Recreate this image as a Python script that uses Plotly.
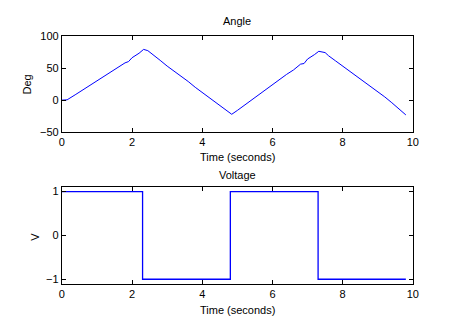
import plotly.graph_objects as go

# Angle data (seconds, degrees)
angle_t = [0.0, 0.15, 0.4, 0.6, 0.8, 1.0, 1.2, 1.4, 1.6, 1.8, 1.9, 2.0, 2.2, 2.33, 2.45,
           2.6, 2.8, 3.0, 3.2, 3.4, 3.6, 3.8, 4.0, 4.2, 4.4, 4.6, 4.84, 5.0, 5.2, 5.4,
           5.6, 5.8, 6.0, 6.2, 6.4, 6.6, 6.8, 6.9, 7.0, 7.2, 7.32, 7.5, 7.6, 7.8, 8.0,
           8.2, 8.4, 8.6, 8.8, 9.0, 9.2, 9.4, 9.6, 9.8]
angle_deg = [0, 0.5, 9, 16, 24, 31, 38, 45, 51, 58, 60, 66, 73, 79, 77,
             71, 62, 53, 45, 38, 29, 20, 12, 4, -4, -12, -22, -16, -8, 0,
             8, 17, 25, 32, 40, 47, 56, 57, 64, 71, 76, 74, 69, 61, 53,
             46, 37, 30, 21, 13, 5, -4, -13, -23]

# Voltage data (seconds, volts) - step changes
volt_t = [0.0, 2.3, 4.8, 7.3, 9.8]
volt_v = [1, -1, 1, -1, -1]

x_ticks = [0, 2, 4, 6, 8, 10]
angle_ticks = [-50, 0, 50, 100]
volt_ticks = [-1, 0, 1]

W, H = 463, 333
font = dict(family="Liberation Sans, Arial, sans-serif", size=11, color="black")

fig = go.Figure()
fig.add_trace(go.Scatter(x=angle_t, y=angle_deg, mode="lines",
                         line=dict(color="#0000ff", width=1), xaxis="x", yaxis="y",
                         showlegend=False))
fig.add_trace(go.Scatter(x=volt_t, y=volt_v, mode="lines", line_shape="hv",
                         line=dict(color="#0000ff", width=1.3), xaxis="x2", yaxis="y2",
                         showlegend=False))

ax_common = dict(showline=True, linecolor="black", linewidth=1, mirror="ticks",
                 ticks="inside", ticklen=4, tickcolor="black", tickwidth=1,
                 showgrid=False, zeroline=False, tickfont=font)


def py(p):
    return 1 - p / H


def px(p):
    return p / W


fig.update_layout(
    width=W, height=H, margin=dict(l=0, r=0, t=0, b=0),
    paper_bgcolor="white", plot_bgcolor="white", font=font,
    xaxis=dict(domain=[px(60), px(418)], range=[0, 10], tickvals=x_ticks,
               anchor="y", **ax_common),
    yaxis=dict(domain=[py(131), py(31)], range=[-50, 100], tickvals=angle_ticks,
               anchor="x", **ax_common),
    xaxis2=dict(domain=[px(60), px(418)], range=[0, 10], tickvals=x_ticks,
                anchor="y2", **ax_common),
    yaxis2=dict(domain=[py(288), py(188)], range=[-1.1, 1.1], tickvals=volt_ticks,
                anchor="x2", **ax_common),
)

ann = [
    ("Angle", 239, 16, 0),
    ("Time (seconds)", 239, 157, 0),
    ("Voltage", 239, 175, 0),
    ("Time (seconds)", 239, 315, 0),
    ("Deg", 25, 82, -90),
    ("V", 33, 239, -90),
]
for text, x, y, ang in ann:
    fig.add_annotation(text=text, x=px(x), y=py(y), xref="paper", yref="paper",
                       showarrow=False, font=font, textangle=ang,
                       xanchor="center", yanchor="middle")

fig.write_html("out.html")
